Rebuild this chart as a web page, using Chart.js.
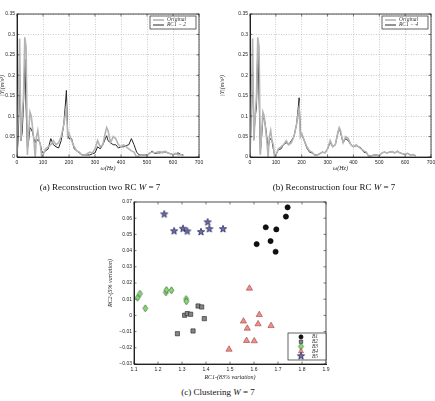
<!DOCTYPE html>
<html>
<head>
<meta charset="utf-8">
<script src="https://cdn.jsdelivr.net/npm/chart.js@4.4.0/dist/chart.umd.min.js"></script>
<style>
body { margin: 0; background: #fff; width: 435px; height: 401px; position: relative; overflow: hidden; }
canvas { position: absolute; }
.cap { position: absolute; font-family: "Liberation Serif", serif; font-size: 9px; line-height: 10px; color: #111; white-space: nowrap; transform: translateX(-50%); }
</style>
</head>
<body>
<canvas id="chartA" width="218" height="175" style="left:-11px;top:0"></canvas>
<canvas id="chartB" width="221" height="175" style="left:218px;top:0"></canvas>
<canvas id="chartC" width="236" height="194" style="left:100px;top:190px"></canvas>
<div class="cap" style="left:100px;top:182px">(a) Reconstruction two RC <i>W</i> = 7</div>
<div class="cap" style="left:334px;top:182px">(b) Reconstruction four RC <i>W</i> = 7</div>
<div class="cap" style="left:218px;top:387px">(c) Clustering <i>W</i> = 7</div>
<script>
// spectres : frequences (Hz) et amplitudes
const freq = [0,5,10,15,20,25,30,35,40,45,
  50,55,60,65,70,75,80,85,90,95,
  100,110,120,130,140,150,160,170,180,185,
  190,195,200,210,220,230,240,250,260,270,
  280,290,300,310,320,330,340,345,350,360,
  370,380,390,400,410,420,430,440,450,460,
  470,480,490,500,510,520,530,540,550,560,
  570,580,590,600,610,620,630,640];

const original = [0,0.12,0.29,0.04,0.10,0.15,0.293,0.27,0.005,0.06,
  0.11,0.10,0.07,0.04,0.0,0.05,0.065,0.04,0.03,0.0,
  0.005,0.02,0.025,0.03,0.04,0.03,0.035,0.05,0.08,0.10,
  0.12,0.05,0.058,0.04,0.025,0.015,0.012,0.005,0.005,0.008,
  0.012,0.01,0.02,0.04,0.025,0.03,0.06,0.072,0.065,0.035,
  0.05,0.045,0.03,0.025,0.03,0.025,0.02,0.015,0.012,0.0,
  0.003,0.005,0.005,0.003,0.01,0.012,0.01,0.012,0.013,0.01,
  0.014,0.01,0.008,0.006,0.009,0.005,0.006,0.003];

const rc2 = [0,0.05,0.20,0.04,0.06,0.13,0.24,0.12,0.02,0.04,
  0.072,0.068,0.06,0.045,0.035,0.045,0.04,0.04,0.03,0.015,
  0.01,0.015,0.02,0.045,0.03,0.025,0.022,0.04,0.08,0.12,
  0.163,0.06,0.045,0.045,0.02,0.015,0.01,0.005,0.005,0.005,
  0.005,0.008,0.01,0.025,0.02,0.03,0.045,0.052,0.04,0.035,
  0.03,0.03,0.022,0.025,0.025,0.028,0.03,0.045,0.03,0.012,
  0.005,0.005,0.005,0.005,0.008,0.015,0.008,0.01,0.01,0.012,
  0.012,0.01,0.008,0.005,0.008,0.01,0.006,0.005];

const rc4 = [0,0.10,0.21,0.045,0.10,0.12,0.27,0.15,0.01,0.05,
  0.095,0.095,0.075,0.05,0.02,0.04,0.045,0.04,0.02,0.005,
  0.005,0.018,0.02,0.03,0.035,0.03,0.04,0.05,0.08,0.11,
  0.145,0.055,0.055,0.04,0.022,0.012,0.01,0.005,0.005,0.008,
  0.012,0.01,0.02,0.035,0.025,0.03,0.06,0.07,0.06,0.035,
  0.045,0.04,0.03,0.025,0.028,0.025,0.022,0.012,0.01,0.002,
  0.003,0.005,0.005,0.003,0.01,0.012,0.01,0.012,0.013,0.01,
  0.014,0.01,0.008,0.006,0.009,0.005,0.006,0.003];

// clustering : RC1 / RC2 par groupe
const b1X = [1.611,1.649,1.669,1.690,1.693,1.733,1.740];
const b1Y = [0.044,0.0544,0.0459,0.0393,0.0531,0.061,0.0667];
const b2X = [1.281,1.311,1.322,1.336,1.346,1.367,1.382,1.393];
const b2Y = [-0.0113,0.0001,0.0011,0.0007,-0.0096,0.0058,0.0052,-0.002];
const b3X = [1.115,1.125,1.147,1.233,1.235,1.256,1.317,1.318];
const b3Y = [0.0109,0.0134,0.0044,0.0142,0.0157,0.0155,0.0101,0.0087];
const b4X = [1.496,1.556,1.572,1.569,1.581,1.601,1.617,1.622,1.671];
const b4Y = [-0.021,-0.0036,-0.008,-0.0156,0.0167,-0.0158,-0.0053,0.0004,-0.0064];
const b5X = [1.226,1.267,1.304,1.322,1.379,1.407,1.414,1.471];
const b5Y = [0.0624,0.052,0.0535,0.0519,0.0515,0.0575,0.0533,0.0533];

Chart.defaults.font.family = '"Liberation Sans", sans-serif';
Chart.defaults.color = '#222';

const tickFont = { size: 5 };
const titleFont = { family: '"Liberation Serif", serif', style: 'italic', size: 6 };

// cadre autour de la zone de tracé + petits traits de graduation vers l'intérieur
const frame = {
  id: 'frame',
  afterDraw(chart) {
    const { ctx, chartArea: a, scales } = chart;
    ctx.save();
    ctx.strokeStyle = '#222';
    ctx.lineWidth = 0.8;
    ctx.strokeRect(a.left, a.top, a.right - a.left, a.bottom - a.top);
    ctx.lineWidth = 0.6;
    ctx.beginPath();
    scales.x.ticks.forEach(t => {
      const px = scales.x.getPixelForValue(t.value);
      ctx.moveTo(px, a.bottom); ctx.lineTo(px, a.bottom - 2.5);
      ctx.moveTo(px, a.top); ctx.lineTo(px, a.top + 2.5);
    });
    scales.y.ticks.forEach(t => {
      const py = scales.y.getPixelForValue(t.value);
      ctx.moveTo(a.left, py); ctx.lineTo(a.left + 2.5, py);
      ctx.moveTo(a.right, py); ctx.lineTo(a.right - 2.5, py);
    });
    ctx.stroke();
    ctx.restore();
  }
};

// légende encadrée dans le graphique
const boxLegend = {
  id: 'boxLegend',
  afterDraw(chart, args, o) {
    const ctx = chart.ctx, a = chart.chartArea;
    const sets = chart.data.datasets;
    const h = sets.length * o.row + 3;
    const left = a.right - o.right - o.width;
    const top = o.atBottom ? a.bottom - o.bottom - h : a.top + o.top;
    ctx.save();
    ctx.fillStyle = '#fff';
    ctx.fillRect(left, top, o.width, h);
    ctx.strokeStyle = '#222';
    ctx.lineWidth = 0.7;
    ctx.strokeRect(left, top, o.width, h);
    ctx.font = 'italic 5.5px "Liberation Serif"';
    ctx.textBaseline = 'middle';
    sets.forEach((ds, i) => {
      const y = top + 1.5 + o.row * (i + 0.5);
      if (o.marker === 'line') {
        ctx.strokeStyle = ds.borderColor;
        ctx.lineWidth = ds.borderWidth;
        ctx.beginPath();
        ctx.moveTo(left + 3, y);
        ctx.lineTo(left + 14, y);
        ctx.stroke();
      } else {
        ctx.fillStyle = ds.backgroundColor;
        ctx.strokeStyle = ds.borderColor;
        ctx.lineWidth = ds.borderWidth;
        Chart.helpers.drawPoint(ctx, { pointStyle: ds.pointStyle, radius: ds.pointRadius * 0.8, borderWidth: ds.borderWidth, rotation: 0 }, left + o.markX, y);
      }
      ctx.fillStyle = '#333';
      ctx.fillText(ds.label, left + o.textX, y);
    });
    ctx.restore();
  }
};

const numLabel = v => {
  const s = +v.toFixed(3);
  return s < 0 ? '\u2212' + Math.abs(s) : String(s);
};

function spectrum(id, label, values, yWidth, yTitlePad) {
  const pts = arr => freq.map((f, i) => ({ x: f, y: arr[i] }));
  new Chart(document.getElementById(id), {
    type: 'line',
    data: {
      datasets: [
        { label: 'Original', data: pts(original), borderColor: '#b4b4b4', borderWidth: 1.6, pointRadius: 0, tension: 0 },
        { label: label, data: pts(values), borderColor: '#262626', borderWidth: 1, pointRadius: 0, tension: 0 }
      ]
    },
    options: {
      responsive: false,
      animation: false,
      layout: { padding: { top: 14, right: 8, left: 0, bottom: 0 } },
      scales: {
        x: {
          type: 'linear', min: 0, max: 700,
          ticks: { stepSize: 100, font: tickFont, padding: 2.5, maxRotation: 0 },
          grid: { color: '#aaa', lineWidth: 0.6, drawTicks: false },
          border: { dash: [1, 1.5], color: '#222' },
          title: { display: true, text: '\u03c9(Hz)', font: titleFont, padding: { top: 0, bottom: 3.4 } },
          afterFit: s => { s.height = 18; }
        },
        y: {
          min: 0, max: 0.35,
          ticks: { stepSize: 0.05, font: tickFont, padding: 2, callback: numLabel },
          grid: { color: '#aaa', lineWidth: 0.6, drawTicks: false },
          border: { dash: [1, 1.5], color: '#222' },
          title: { display: true, text: '|Y|(m/s\u00b2)', font: titleFont, padding: { top: yTitlePad, bottom: 0 } },
          afterFit: s => { s.width = yWidth; }
        }
      },
      plugins: {
        legend: { display: false },
        tooltip: { enabled: false },
        boxLegend: { marker: 'line', width: 46, row: 5, top: 2, right: 3, textX: 17 }
      }
    },
    plugins: [frame, boxLegend]
  });
}

spectrum('chartA', 'RC1 \u2212 2', rc2, 28, 9.4);
spectrum('chartB', 'RC1 \u2212 4', rc4, 32, 0.4);

// marqueurs dessinés à la main (étoile et losange fin)
function marker(size, draw) {
  const c = document.createElement('canvas');
  c.width = size; c.height = size;
  draw(c.getContext('2d'), size / 2);
  return c;
}
const starImg = marker(10, (g, m) => {
  g.beginPath();
  for (let i = 0; i < 10; i++) {
    const r = i % 2 ? 1.6 : 3.8;
    const ang = -Math.PI / 2 + i * Math.PI / 5;
    g.lineTo(m + r * Math.cos(ang), m + r * Math.sin(ang));
  }
  g.closePath();
  g.fillStyle = '#6a6ab0'; g.fill();
  g.strokeStyle = '#1e1e4a'; g.lineWidth = 0.7; g.stroke();
});
const diamondImg = marker(9, (g, m) => {
  g.beginPath();
  g.moveTo(m, m - 3.5); g.lineTo(m + 2.4, m); g.lineTo(m, m + 3.5); g.lineTo(m - 2.4, m);
  g.closePath();
  g.fillStyle = '#8fd878'; g.fill();
  g.strokeStyle = '#2d6a2d'; g.lineWidth = 0.7; g.stroke();
});

const xy = (xs, ys) => xs.map((x, i) => ({ x: x, y: ys[i] }));

new Chart(document.getElementById('chartC'), {
  type: 'scatter',
  data: {
    datasets: [
      { label: 'B1', data: xy(b1X, b1Y), pointStyle: 'circle', pointRadius: 2.6, backgroundColor: '#111', borderColor: '#000', borderWidth: 0.6 },
      { label: 'B2', data: xy(b2X, b2Y), pointStyle: 'rect', pointRadius: 3, backgroundColor: '#858585', borderColor: '#222', borderWidth: 0.6 },
      { label: 'B3', data: xy(b3X, b3Y), pointStyle: diamondImg, pointRadius: 3, backgroundColor: '#8fd878', borderColor: '#2d6a2d', borderWidth: 0.6 },
      { label: 'B4', data: xy(b4X, b4Y), pointStyle: 'triangle', pointRadius: 3.6, backgroundColor: '#ee8f88', borderColor: '#9a4040', borderWidth: 0.6 },
      { label: 'B5', data: xy(b5X, b5Y), pointStyle: starImg, pointRadius: 3, backgroundColor: '#6a6ab0', borderColor: '#1e1e4a', borderWidth: 0.6 }
    ]
  },
  options: {
    responsive: false,
    animation: false,
    layout: { padding: { top: 12, right: 10, left: 0, bottom: 0 } },
    scales: {
      x: {
        type: 'linear', min: 1.1, max: 1.9,
        ticks: { stepSize: 0.1, font: tickFont, padding: 2.5, maxRotation: 0, callback: v => (+v).toFixed(1) },
        grid: { display: false, drawTicks: false },
        border: { color: '#222' },
        title: { display: true, text: 'RC1-(83% variation)', font: titleFont, padding: { top: 0, bottom: 3.4 } },
        afterFit: s => { s.height = 20; }
      },
      y: {
        min: -0.03, max: 0.07,
        ticks: { stepSize: 0.01, font: tickFont, padding: 2, callback: numLabel },
        grid: { display: false, drawTicks: false },
        border: { color: '#222' },
        title: { display: true, text: 'RC2-(5% variation)', font: titleFont, padding: { top: 6.4, bottom: 0 } },
        afterFit: s => { s.width = 34; }
      }
    },
    plugins: {
      legend: { display: false },
      tooltip: { enabled: false },
      boxLegend: { marker: 'point', width: 38, row: 4.8, atBottom: true, bottom: 4, right: 0, markX: 13, textX: 24 }
    }
  },
  plugins: [frame, boxLegend]
});
</script>
</body>
</html>
